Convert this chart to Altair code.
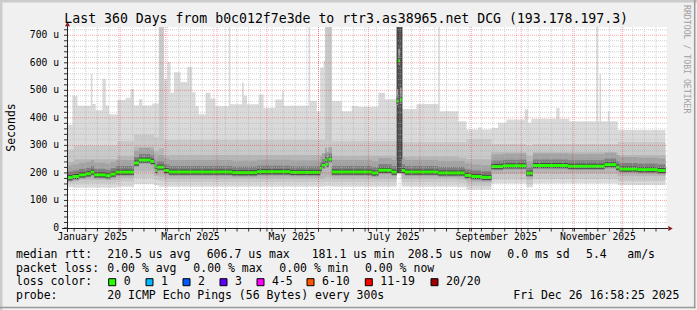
import altair as alt
import pandas as pd

MONO = "DejaVu Sans Mono"
OX, OY = 67, 27          # plot origin inside the 697x310 picture
W, H = 600, 201

# ---------------- data (values in microseconds) ----------------
med_dates = ["2024-12-31T17:00:00Z", "2025-01-04", "2025-01-08", "2025-01-12", "2025-01-15", "2025-01-17",
             "2025-01-24", "2025-01-27", "2025-01-30", "2025-02-10", "2025-02-13", "2025-02-20", "2025-02-22",
             "2025-02-23", "2025-02-24", "2025-02-28", "2025-03-03", "2025-04-10", "2025-04-25", "2025-05-15",
             "2025-06-02", "2025-06-03", "2025-06-05", "2025-06-06", "2025-06-07", "2025-06-09", "2025-07-03",
             "2025-07-07", "2025-07-15", "2025-07-18", "2025-07-19", "2025-07-20", "2025-07-21", "2025-07-23",
             "2025-08-12", "2025-08-28", "2025-09-01", "2025-09-07", "2025-09-13", "2025-09-20", "2025-10-04",
             "2025-10-08", "2025-10-29", "2025-11-20", "2025-11-27", "2025-11-29", "2025-12-10", "2025-12-22",
             "2025-12-26T17:00:00Z"]
med_vals = [183, 187, 193, 197, 203, 193, 190, 196, 203, 236, 247, 242, 227, 209, 221, 209, 203, 201, 204, 202,
            217, 228, 248, 232, 250, 203, 200, 210, 203, 461, 607, 466, 209, 203, 200, 191, 187, 184, 223, 226,
            199, 227, 224, 230, 221, 214, 212, 209, 209]

max_dates = ["2024-12-31T17:00:00Z", "2025-01-01", "2025-01-04", "2025-01-07", "2025-01-15", "2025-01-16",
             "2025-01-18", "2025-01-22", "2025-01-24", "2025-01-26", "2025-01-31", "2025-02-05", "2025-02-08",
             "2025-02-10", "2025-02-13", "2025-02-15", "2025-02-21", "2025-02-25", "2025-02-28", "2025-03-02",
             "2025-03-04", "2025-03-06", "2025-03-10", "2025-03-14", "2025-03-17", "2025-03-19", "2025-03-21",
             "2025-03-25", "2025-03-28", "2025-03-31", "2025-04-08", "2025-04-09", "2025-04-16", "2025-04-17",
             "2025-04-19", "2025-04-26", "2025-04-29", "2025-05-06", "2025-05-10", "2025-05-11", "2025-05-26",
             "2025-05-27", "2025-05-31", "2025-06-02", "2025-06-04", "2025-06-05", "2025-06-09", "2025-06-15",
             "2025-06-21", "2025-06-25", "2025-07-07", "2025-07-11", "2025-07-18", "2025-07-21", "2025-07-30",
             "2025-08-12", "2025-08-13", "2025-08-24", "2025-08-29", "2025-09-05", "2025-09-07", "2025-09-13",
             "2025-09-17", "2025-09-22", "2025-10-03", "2025-10-05", "2025-10-07", "2025-10-22", "2025-10-24",
             "2025-10-30", "2025-11-15", "2025-11-16", "2025-11-17", "2025-11-18", "2025-11-22", "2025-11-23",
             "2025-11-28", "2025-12-26T17:00:00Z"]
max_vals = [351, 375, 480, 444, 559, 450, 428, 541, 445, 413, 465, 473, 505, 445, 468, 445, 452, 730, 540, 603,
            491, 566, 530, 585, 493, 443, 413, 491, 470, 442, 730, 449, 528, 480, 449, 485, 436, 467, 498, 444,
            730, 461, 424, 582, 607, 730, 461, 424, 443, 440, 491, 468, 730, 432, 450, 730, 424, 388, 358, 365,
            358, 363, 382, 394, 430, 382, 397, 436, 397, 388, 730, 388, 558, 388, 424, 388, 356, 356]

band_dates = ["2024-12-31T17:00:00Z", "2025-01-05", "2025-01-31", "2025-02-10", "2025-02-22", "2025-02-25",
              "2025-02-28", "2025-06-05", "2025-06-09", "2025-07-18", "2025-07-21", "2025-08-24", "2025-08-29",
              "2025-09-13", "2025-10-04", "2025-10-08", "2025-11-28", "2025-12-26T17:00:00Z"]
min_vals = [148, 146, 150, 160, 155, 150, 150, 152, 150, 195, 150, 148, 140, 162, 148, 162, 156, 156]
b1_lo = [162, 162, 168, 182, 175, 170, 166, 168, 166, 198, 166, 163, 152, 176, 160, 178, 170, 170]
b1_hi = [285, 300, 315, 340, 330, 730, 320, 730, 315, 730, 312, 312, 322, 305, 300, 305, 312, 312]
b2_lo = [172, 175, 182, 205, 190, 185, 180, 185, 180, 200, 180, 176, 165, 196, 175, 198, 188, 188]
b2_hi = [240, 250, 262, 295, 280, 290, 265, 280, 262, 300, 260, 255, 250, 275, 262, 275, 265, 265]

# dark (high spread) column in July
dark_start = ["2025-07-18"]
dark_end = ["2025-07-21T12:00:00Z"]
dark_lo = [200]
dark_hi = [730]

label_dates = ["2025-01-16", "2025-03-16", "2025-05-16", "2025-07-16", "2025-09-16", "2025-11-16"]
label_texts = ["January 2025", "March 2025", "May 2025", "July 2025", "September 2025", "November 2025"]
month_starts = ["2025-%02d-01" % m for m in range(1, 13)]
week_lines = [d.strftime("%Y-%m-%d") for d in pd.date_range("2025-01-05", "2025-12-21", freq="7D")]
y_ticks = list(range(0, 730, 20))
y_minor = [v for v in y_ticks if v % 100 and v > 0]
y_major = list(range(100, 730, 100))
y_label_vals = [0, 100, 200, 300, 400, 500, 600, 700]
y_label_texts = ["0\u00a0\u00a0", "100 u", "200 u", "300 u", "400 u", "500 u", "600 u", "700 u"]

title_text = "Last 360 Days from b0c012f7e3de to rtr3.as38965.net DCG (193.178.197.3)"
row1 = [("median rtt:", 16), ("210.5 us avg", 107.3), ("606.7 us max", 206.7), ("181.1 us min", 311.7),
        ("208.5 us now", 407.7), ("0.0 ms sd", 507.3), ("5.4", 586), ("am/s", 627.3)]
row2 = [("packet loss:", 16), ("0.00 % avg", 107.3), ("0.00 % max", 193.3), ("0.00 % min", 279.3),
        ("0.00 % now", 365)]
loss_labels = ["0", "1", "2", "3", "4-5", "6-10", "11-19", "20/20"]
loss_colors = ["#26ff00", "#00b8ff", "#0059ff", "#5e00ff", "#ff00ff", "#ff5500", "#ff0000", "#a10000"]
loss_box_x = [112.2, 149.5, 186.5, 223.5, 260.5, 310.5, 368.8, 434.5]
row4 = [("probe:", 16), ("20 ICMP Echo Pings (56 Bytes) every 300s", 107.3), ("Fri Dec 26 16:58:25 2025", 513.3)]

# ---------------- scales ----------------
xscale = alt.Scale(type="utc", domain=[alt.DateTime(year=2024, month=12, date=31, hours=17, utc=True),
                                       alt.DateTime(year=2025, month=12, date=27, hours=15, utc=True)])
yscale = alt.Scale(domain=[0, 730], nice=False, zero=False)


def X(f):
    return alt.X(f"{f}:T", scale=xscale, axis=None)


def Y(f):
    return alt.Y(f"{f}:Q", scale=yscale, axis=None)


med = pd.DataFrame({"d": med_dates, "v": med_vals})
med_seg = med.assign(d2=med["d"].shift(-1)).iloc[:-1]
mx = pd.DataFrame({"d": max_dates, "v": max_vals})
band = pd.DataFrame({"d": band_dates, "mn": min_vals, "b1lo": b1_lo, "b1hi": b1_hi, "b2lo": b2_lo, "b2hi": b2_hi})
dark = pd.DataFrame({"d": dark_start, "d2": dark_end, "lo": dark_lo, "hi": dark_hi})
one = pd.DataFrame({"k": [0]})

layers = []
# smoke
layers.append(alt.Chart(mx).mark_area(interpolate="step-after", color="#dadada").encode(x=X("d"), y=Y("v")))
layers.append(alt.Chart(band).mark_area(interpolate="step-after", color="#ffffff").encode(x=X("d"), y=Y("mn")))
layers.append(alt.Chart(band).mark_area(interpolate="step-after", color="#c9c9c9").encode(
    x=X("d"), y=Y("b1hi"), y2="b1lo"))
layers.append(alt.Chart(band).mark_area(interpolate="step-after", color="#b6b6b6").encode(
    x=X("d"), y=Y("b2hi"), y2="b2lo"))
layers.append(alt.Chart(dark).mark_rect(color="#4a4a4a").encode(x=X("d"), x2="d2", y=Y("hi"), y2="lo"))
layers.append(alt.Chart(med_seg).mark_rule(color="#a2a2a2", strokeWidth=16, yOffset=-4).encode(
    x=X("d"), x2="d2", y=Y("v")))
layers.append(alt.Chart(med_seg).mark_rule(color="#7e7e7e", strokeWidth=9, yOffset=-1.5).encode(
    x=X("d"), x2="d2", y=Y("v")))
layers.append(alt.Chart(med_seg).mark_rule(color="#484848", strokeWidth=5).encode(
    x=X("d"), x2="d2", y=Y("v")))
layers.append(alt.Chart(med_seg).mark_rule(color="#26ff00", strokeWidth=3).encode(
    x=X("d"), x2="d2", y=Y("v")))

# grid
layers.append(alt.Chart(pd.DataFrame({"g": y_minor})).mark_rule(
    color="#b0b0b0", strokeWidth=1, strokeDash=[1, 1], opacity=0.6).encode(y=Y("g")))
layers.append(alt.Chart(pd.DataFrame({"g": week_lines})).mark_rule(
    color="#b0b0b0", strokeWidth=1, strokeDash=[1, 1], opacity=0.6).encode(x=X("g")))
layers.append(alt.Chart(pd.DataFrame({"g": y_major})).mark_rule(
    color="#ff0000", strokeWidth=1, strokeDash=[1, 1], opacity=0.35).encode(y=Y("g")))
layers.append(alt.Chart(pd.DataFrame({"g": month_starts})).mark_rule(
    color="#ff0000", strokeWidth=1, strokeDash=[1, 1], opacity=0.35).encode(x=X("g")))

# ticks
layers.append(alt.Chart(pd.DataFrame({"g": y_ticks})).mark_rule(color="#333333", strokeWidth=1).encode(
    y=Y("g"), x=alt.value(-3), x2=alt.value(0)))
layers.append(alt.Chart(pd.DataFrame({"g": week_lines + month_starts})).mark_rule(
    color="#333333", strokeWidth=1).encode(x=X("g"), y=alt.value(201.5), y2=alt.value(204.5)))

# axis labels
layers.append(alt.Chart(pd.DataFrame({"v": y_label_vals, "t": y_label_texts})).mark_text(
    font=MONO, fontSize=9.7, align="right", baseline="middle", color="#000000").encode(
    y=Y("v"), x=alt.value(59 - OX), text="t:N"))
layers.append(alt.Chart(pd.DataFrame({"d": label_dates, "t": label_texts})).mark_text(
    font=MONO, fontSize=9.7, align="center", baseline="alphabetic", color="#000000").encode(
    x=X("d"), y=alt.value(239.8 - OY), text="t:N"))


def rule_h(x1, x2, y, color, w):
    return alt.Chart(one).mark_rule(color=color, strokeWidth=w).encode(
        x=alt.value(x1 - OX), x2=alt.value(x2 - OX), y=alt.value(y - OY))


def rule_v(x, y1, y2, color, w):
    return alt.Chart(one).mark_rule(color=color, strokeWidth=w).encode(
        x=alt.value(x - OX), y=alt.value(y1 - OY), y2=alt.value(y2 - OY))


def txt(s, x, y, size=11.5, align="left", color="#000000", angle=0, baseline="alphabetic"):
    return alt.Chart(one).mark_text(text=s, font=MONO, fontSize=size, align=align, baseline=baseline,
                                    color=color, angle=angle).encode(x=alt.value(x - OX), y=alt.value(y - OY))


# axis lines and arrows
layers.append(rule_h(62, 668, 228.5, "#222222", 1))
layers.append(rule_v(67.5, 26, 232, "#222222", 1))
layers.append(alt.Chart(one).mark_point(shape="triangle-up", filled=True, fill="#8b1a1a", size=26,
                                        strokeWidth=0, opacity=1).encode(
    x=alt.value(67.5 - OX), y=alt.value(24 - OY)))
layers.append(alt.Chart(one).mark_point(shape="triangle-right", filled=True, fill="#8b1a1a", size=26,
                                        strokeWidth=0, opacity=1).encode(
    x=alt.value(670.5 - OX), y=alt.value(228.5 - OY)))

# texts
layers.append(txt(title_text, 346.2, 23.3, size=13.2, align="center"))
layers.append(txt("Seconds", 15, 127.5, size=11.5, align="center", angle=270))
layers.append(txt("RRDTOOL / TOBI OETIKER", 684.3, 5, size=8.2, color="#a0a0a0", angle=90))
for s, x in row1:
    layers.append(txt(s, x, 257.7))
for s, x in row2:
    layers.append(txt(s, x, 271.6))
layers.append(txt("loss color:", 16, 285.4))
for lab, col, bx in zip(loss_labels, loss_colors, loss_box_x):
    layers.append(alt.Chart(one).mark_square(size=49, filled=True, fill=col, stroke="#000000", strokeWidth=1,
                                             opacity=1).encode(x=alt.value(bx - OX), y=alt.value(282.2 - OY)))
    layers.append(txt(lab, bx + 11.5, 285.4))
for s, x in row4:
    layers.append(txt(s, x, 299.3))

# picture frame
layers.append(rule_h(0, 697, 1.2, "#cbcbcb", 2.5))
layers.append(rule_v(1.2, 0, 310, "#cbcbcb", 2.5))
layers.append(rule_v(694.7, 0, 308.3, "#999999", 1.5))
layers.append(rule_h(0, 695.5, 307.5, "#999999", 1.5))

chart = alt.layer(*layers).properties(
    width=W, height=H, background="#f0f0f0",
    padding={"left": OX, "top": OY, "right": 697 - OX - W, "bottom": 310 - OY - H},
    autosize=alt.AutoSizeParams(type="none"),
).configure_view(fill="#ffffff", strokeWidth=0)

chart.save("out.html", embed_options={"renderer": "svg", "actions": False})
